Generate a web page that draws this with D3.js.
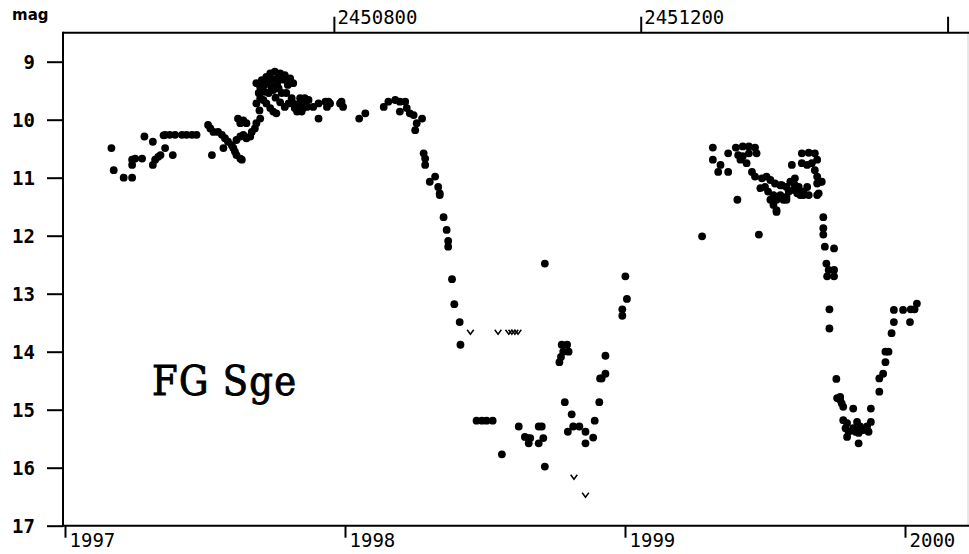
<!DOCTYPE html>
<html>
<head>
<meta charset="utf-8">
<script src="https://cdn.jsdelivr.net/npm/d3@7"></script>
<style>
  html, body { margin: 0; padding: 0; background: #fff; }
  svg { display: block; }
</style>
</head>
<body>
<svg id="chart" width="969" height="554"></svg>
<script>
// ---- data (JD - 2450000, visual magnitude) ----
const season1997 = [
  [510,10.49],[513,10.87],[526,11.00],[537,11.00],[537,10.69],[541,10.67],[550,10.67],[537,10.78],
  [553,10.29],[564,10.38],[567,10.69],[571,10.64],[574,10.61],[564,10.78],[580,10.49],[590,10.61],
  [578,10.27],[580,10.26],[586,10.26],[593,10.26],[602,10.26],[608,10.26],[615,10.26],[621,10.26],
  [636,10.09],[639,10.15],[643,10.21],[649,10.21],[654,10.26],[658,10.32],[641,10.61],[656,10.49],
  [662,10.38],[667,10.44],[669,10.49],[671,10.55],[673,10.61],[678,10.67],[680,10.69],
  [673,10.35],[678,10.29],[682,10.26],[686,10.32],[691,10.29],
  [675,9.98],[682,10.01],[686,10.06],[678,10.06],
  [693,10.21],[697,10.15],[699,10.06],[704,9.98],
  [699,9.72],[704,9.63],[702,9.54],[699,9.37],[706,9.32],[712,9.26],[717,9.20],[723,9.17],
  [730,9.20],[736,9.23],[743,9.29],[747,9.37],
  [708,9.66],[712,9.72],[717,9.80],[721,9.86],[725,9.89],
  [715,9.54],[721,9.49],[728,9.46],[732,9.54],
  [704,9.44],[709,9.40],[714,9.34],[720,9.30],[727,9.28],[734,9.31],[740,9.40],[703,9.84],
  [710,9.52],[724,9.62],[730,9.70],[736,9.78],[741,9.72],[726,9.38],[718,9.42],
  [738,9.54],[745,9.63],[747,9.72],[749,9.80],[752,9.86],
  [756,9.63],[760,9.69],[767,9.66],[765,9.78],[756,9.83],
  [762,9.63],[773,9.78],[758,9.86],[752,9.74],[760,9.80],
  [780,9.72],[780,9.98],
  [789,9.69],[791,9.78],[793,9.69],[795,9.72],[808,9.72],[810,9.69],[812,9.78]
];
const season1998 = [
  [833,9.98],[841,9.89],
  [865,9.78],[871,9.69],[880,9.66],[886,9.69],[893,9.69],[886,9.86],[895,9.80],[899,9.89],
  [904,9.92],[915,9.98],[908,10.06],[906,10.18],
  [917,10.58],[919,10.67],[919,10.78],
  [925,11.07],[932,10.98],[936,11.16],[938,11.27],[938,11.30],
  [943,11.68],[947,11.90],[949,12.09],[949,12.19],
  [954,12.75],[957,13.18],[964,13.49],[965,13.88],
  [986,15.19],[993,15.19],[999,15.19],[1007,15.19],
  [1019,15.77],[1041,15.29],[1049,15.47],[1054,15.58],[1056,15.49],[1053,15.49],
  [1067,15.29],[1071,15.29],[1067,15.58],[1073,15.49],[1075,15.98],
  [1075,12.48],
  [1094,14.18],[1096,14.09],[1097,13.88],[1099,14.00],[1104,13.88],[1106,14.00],
  [1101,14.87],[1110,15.08],[1112,15.29],[1120,15.29],[1105,15.38],[1128,15.38],
  [1128,15.58],[1138,15.48],[1140,15.19],[1146,14.87],
  [1147,14.46],[1149,14.46],[1154,14.38],[1154,14.07],
  [1176,13.27],[1176,13.38],[1180,12.70],[1182,13.09]
];
const season1999 = [
  [1280,12.01],
  [1294,10.48],[1294,10.69],[1304,10.78],[1301,10.90],[1314,10.90],[1314,10.58],
  [1324,10.48],[1333,10.46],[1341,10.46],[1349,10.48],[1351,10.58],[1341,10.58],[1333,10.63],
  [1338,10.75],[1327,10.61],[1330,10.69],
  [1345,10.90],[1349,10.98],[1358,11.01],[1364,10.98],[1369,11.04],[1375,11.10],[1382,11.13],
  [1362,11.16],[1356,11.18],
  [1366,11.24],[1373,11.30],[1382,11.30],[1390,11.33],[1369,11.38],[1377,11.38],[1386,11.38],
  [1393,11.24],[1399,11.21],[1390,11.38],
  [1373,11.47],[1377,11.56],[1377,11.59],
  [1326,11.38],[1354,11.98],
  [1397,10.78],
  [1410,10.58],[1419,10.57],[1427,10.58],[1430,10.69],[1423,10.75],[1417,10.78],[1410,10.75],
  [1427,10.87],[1430,10.98],[1436,11.07],[1432,11.27],
  [1401,11.01],[1406,11.16],[1412,11.24],[1419,11.30],[1408,11.30],[1401,11.13],[1417,11.16],
  [1390,11.16],[1395,11.07],[1384,11.13],
  [1430,11.10],[1434,11.07],[1404,11.27],[1412,11.30],[1430,11.30],
  [1438,11.68],[1438,11.87],[1438,11.98],[1440,12.19],[1452,12.22],
  [1442,12.48],[1445,12.59],[1452,12.59],[1443,12.70],[1452,12.70],
  [1446,13.27],[1446,13.60],
  [1455,14.47],[1456,14.80],[1460,14.83],[1462,14.89],[1464,14.95],[1460,14.78],
  [1477,14.98],[1500,14.98],
  [1464,15.18],[1469,15.23],[1467,15.32],[1471,15.38],[1469,15.47],[1477,15.32],[1482,15.21],
  [1486,15.29],[1490,15.35],[1495,15.29],[1500,15.21],[1497,15.38],[1484,15.40],[1480,15.38],
  [1484,15.58],
  [1511,14.69],[1511,14.46],[1516,14.38],
  [1519,14.18],[1519,14.00],[1523,14.00],[1527,13.68],[1530,13.49],[1551,13.49],
  [1530,13.28],[1542,13.28],[1557,13.27],[1552,13.27],[1560,13.17]
];
// fainter-than (upper limit) estimates
const limits = [
  [978,13.66],[1014,13.66],[1028,13.66],[1032,13.66],[1036,13.66],[1040,13.66],
  [1113,16.16],[1128,16.47]
];
const magTicks = [9,10,11,12,13,14,15,16,17];
const yearTicks = [1997,1998,1999,2000];
const jdTicks = [2450800,2451200,2451600];
const jdLabels = ["2450800","2451200",""];
const starName = "FG Sge";
const yLabel = "mag";

// ---- scales ----
const JD0 = 2450000;
const x = d3.scaleLinear().domain([449.5, 1544.5]).range([65, 905]);
const y = d3.scaleLinear().domain([9, 17]).range([61.7, 525.7]);
const yearJD = yr => 2440587.5 + Date.UTC(yr, 0, 1) / 86400000 - JD0;

const svg = d3.select("#chart");
const plotLeft = 63, plotRight = 968, plotTop = y(8.5), plotBottom = y(17);
const tickFont = "'DejaVu Sans Mono', monospace";

// frame
svg.append("line").attr("x1", plotRight).attr("x2", plotRight).attr("y1", plotTop).attr("y2", plotBottom)
  .attr("stroke", "#d0d0d0").attr("stroke-width", 1);
svg.append("line").attr("x1", plotLeft).attr("x2", 969).attr("y1", plotTop).attr("y2", plotTop)
  .attr("stroke", "#000").attr("stroke-width", 2);
svg.append("line").attr("x1", plotLeft).attr("x2", 969).attr("y1", plotBottom).attr("y2", plotBottom)
  .attr("stroke", "#000").attr("stroke-width", 2);
svg.append("line").attr("x1", plotLeft).attr("x2", plotLeft).attr("y1", plotTop - 1).attr("y2", plotBottom + 1)
  .attr("stroke", "#000").attr("stroke-width", 2);

// left axis
const gy = svg.append("g").attr("transform", `translate(${plotLeft},0)`)
  .call(d3.axisLeft(y).tickValues(magTicks).tickSize(16).tickPadding(12).tickFormat(d3.format("d")));
gy.select(".domain").remove();
gy.selectAll(".tick line").attr("stroke", "#000").attr("stroke-width", 2);
gy.selectAll(".tick text").attr("fill", "#000").attr("font-family", tickFont)
  .attr("font-size", 19).attr("font-weight", "bold").attr("dy", "0.36em");

// bottom axis (years)
const gx = svg.append("g").attr("transform", `translate(0,${plotBottom})`)
  .call(d3.axisBottom(x).tickValues(yearTicks.map(yearJD)).tickSize(12)
    .tickFormat((d, i) => String(yearTicks[i])));
gx.select(".domain").remove();
gx.selectAll(".tick line").attr("stroke", "#000").attr("stroke-width", 2);
gx.selectAll(".tick text").attr("fill", "#000").attr("font-family", tickFont)
  .attr("font-size", 19).attr("text-anchor", "start").attr("x", 4).attr("y", 21).attr("dy", 0);

// top axis (JD)
const gt = svg.append("g").attr("transform", `translate(0,${plotTop})`)
  .call(d3.axisTop(x).tickValues(jdTicks.map(d => d - JD0)).tickSize(16)
    .tickFormat((d, i) => jdLabels[i]));
gt.select(".domain").remove();
gt.selectAll(".tick line").attr("stroke", "#000").attr("stroke-width", 2);
gt.selectAll(".tick text").attr("fill", "#000").attr("font-family", tickFont)
  .attr("font-size", 19).attr("text-anchor", "start").attr("x", 3).attr("y", -9).attr("dy", 0);

// y label
svg.append("text").attr("x", 12).attr("y", 20).text(yLabel)
  .attr("font-family", "'DejaVu Sans', sans-serif").attr("font-weight", "bold").attr("font-size", 15).attr("fill", "#000");

// star name
svg.append("text").attr("x", 152).attr("y", 395).text(starName)
  .attr("font-family", "'DejaVu Serif Condensed', 'DejaVu Serif', serif").attr("font-stretch", "condensed")
  .attr("font-size", 41).attr("letter-spacing", 1.3)
  .attr("fill", "#000").attr("stroke", "#000").attr("stroke-width", 0.9);

// observations
const obs = season1997.concat(season1998, season1999);
svg.append("g").selectAll("circle").data(obs).join("circle")
  .attr("cx", d => x(d[0])).attr("cy", d => y(d[1])).attr("r", 3.9).attr("fill", "#000");

// upper limits ("v")
svg.append("g").selectAll("path").data(limits).join("path")
  .attr("d", d => `M${x(d[0]) - 3.3},${y(d[1]) - 2.2}L${x(d[0])},${y(d[1]) + 2.2}L${x(d[0]) + 3.3},${y(d[1]) - 2.2}`)
  .attr("fill", "none").attr("stroke", "#000").attr("stroke-width", 1.5);
</script>
</body>
</html>
